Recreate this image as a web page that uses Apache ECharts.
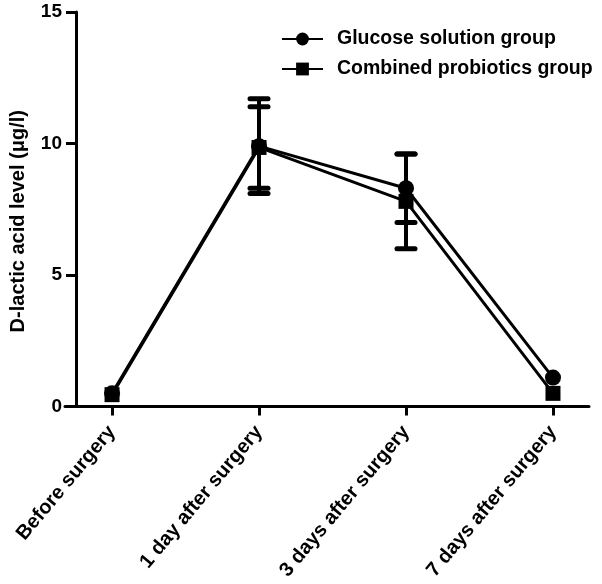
<!DOCTYPE html>
<html><head><meta charset="utf-8">
<script src="https://cdn.jsdelivr.net/npm/echarts@6/dist/echarts.min.js"></script>
<style>html,body{margin:0;padding:0;background:#fff}#c{width:602px;height:584px}</style>
</head><body><div id="c"></div>
<script>
const categories = ['Before surgery', '1 day after surgery', '3 days after surgery', '7 days after surgery'];
const glucoseMean = [0.5, 9.9, 8.3, 1.1];
const glucoseSD = [0, 1.8, 1.3, 0];
const combinedMean = [0.45, 9.85, 7.8, 0.5];
const combinedSD = [0, 1.55, 1.8, 0];
const yTicks = [0, 5, 10, 15];

const FONT = 'Liberation Sans, Arial, sans-serif';
const chart = echarts.init(document.getElementById('c'), null, {renderer: 'canvas'});

function errData(mean, sd) {
  return mean.map((m, i) => [i, m - sd[i], m + sd[i]]);
}
function errSeries(mean, sd) {
  return {
    type: 'custom',
    z: 1,
    silent: true,
    data: errData(mean, sd),
    encode: {x: 0, y: [1, 2]},
    renderItem: function (params, api) {
      const x = api.value(0);
      if (api.value(2) - api.value(1) < 0.05) return null;
      const lo = api.coord([x, api.value(1)]);
      const hi = api.coord([x, api.value(2)]);
      const hw = 9;
      return {
        type: 'group',
        children: [
          {type: 'line', shape: {x1: lo[0], y1: lo[1], x2: hi[0], y2: hi[1]}, style: {stroke: '#000', lineWidth: 4}},
          {type: 'line', shape: {x1: lo[0] - hw, y1: lo[1], x2: lo[0] + hw, y2: lo[1]}, style: {stroke: '#000', lineWidth: 5, lineCap: 'round'}},
          {type: 'line', shape: {x1: hi[0] - hw, y1: hi[1], x2: hi[0] + hw, y2: hi[1]}, style: {stroke: '#000', lineWidth: 5, lineCap: 'round'}}
        ]
      };
    }
  };
}

const option = {
  animation: false,
  backgroundColor: '#fff',
  grid: {left: 65, right: 13, top: 12, bottom: 177.5, containLabel: false, outerBoundsMode: 'none'},
  legend: {
    orient: 'vertical',
    left: 276,
    top: 24,
    itemWidth: 41,
    itemHeight: 16,
    itemGap: 10,
    textStyle: {fontFamily: FONT, fontWeight: 'bold', fontSize: 19.5, color: '#000', padding: [0, 0, 0, 9]},
    data: ['Glucose solution group', 'Combined probiotics group']
  },
  xAxis: {
    type: 'value',
    min: -0.32,
    max: 3.245,
    splitLine: {show: false},
    axisLine: {onZero: false, lineStyle: {color: '#000', width: 3}},
    axisTick: {show: true, customValues: [0, 1, 2, 3], length: 9, lineStyle: {color: '#000', width: 3}},
    axisLabel: {
      customValues: [0, 1, 2, 3],
      rotate: 50,
      margin: 22,
      fontFamily: FONT, fontWeight: 'bold', fontSize: 20, color: '#000',
      formatter: v => categories[Math.round(v)]
    }
  },
  yAxis: {
    type: 'value',
    min: 0, max: 15, interval: 5,
    offset: -11,
    name: 'D-lactic acid level (μg/l)',
    nameLocation: 'middle',
    nameGap: 48,
    nameTextStyle: {fontFamily: FONT, fontWeight: 'bold', fontSize: 20, color: '#000', padding: [0, 24, 0, 0]},
    splitLine: {show: false},
    axisLine: {show: true, onZero: false, lineStyle: {color: '#000', width: 3}},
    axisTick: {show: true, length: 10, lineStyle: {color: '#000', width: 3}},
    axisLabel: {
      margin: 14,
      fontFamily: FONT, fontWeight: 'bold', fontSize: 19, color: '#000',
      customValues: yTicks
    }
  },
  series: [
    errSeries(glucoseMean, glucoseSD),
    errSeries(combinedMean, combinedSD),
    {
      name: 'Glucose solution group',
      type: 'line',
      z: 3,
      data: glucoseMean.map((v, i) => [i, v]),
      symbol: 'circle',
      symbolSize: 16,
      itemStyle: {color: '#000'},
      lineStyle: {color: '#000', width: 3}
    },
    {
      name: 'Combined probiotics group',
      type: 'line',
      z: 4,
      data: combinedMean.map((v, i) => [i, v]),
      symbol: 'rect',
      symbolSize: 15,
      itemStyle: {color: '#000'},
      lineStyle: {color: '#000', width: 3}
    }
  ]
};
chart.setOption(option);
</script>
</body></html>
